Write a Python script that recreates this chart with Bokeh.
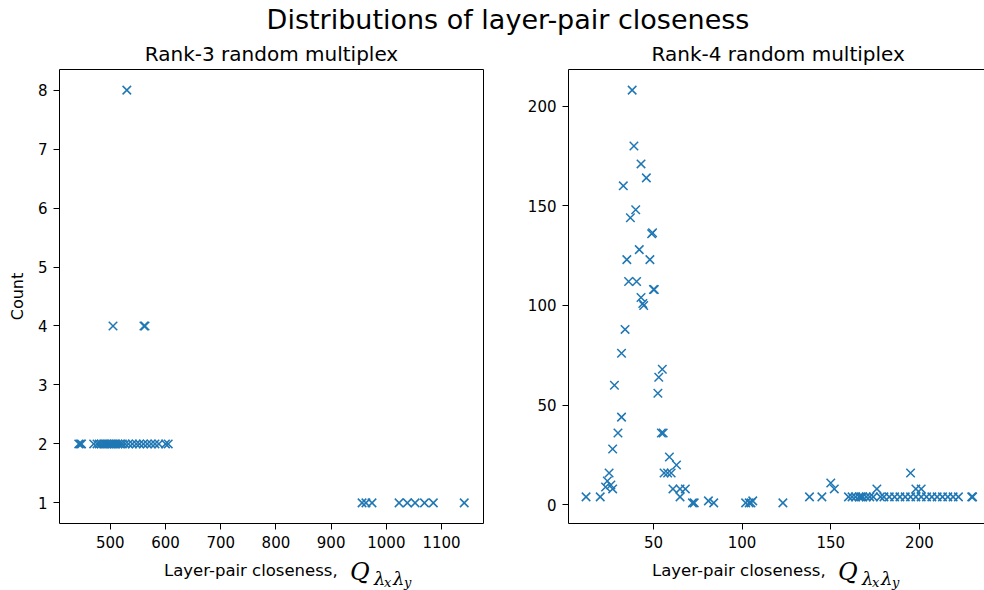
from bokeh.plotting import figure
from bokeh.layouts import column, row
from bokeh.models import Range1d, FixedTicker, LinearAxis, Div
from bokeh.embed import file_html
from bokeh.resources import INLINE

# ---------------- texts ----------------
TITLE = "Distributions of layer-pair closeness"
TITLE3 = "Rank-3 random multiplex"
TITLE4 = "Rank-4 random multiplex"
XLABEL = "Layer-pair closeness,"
XSYMBOL = "Q"
XSUB = ["\u03bb", "x", "\u03bb", "y"]
YLABEL = "Count"

# ---------------- data: rank-3 ----------------
rank3_q = [530,
           505, 561, 563,
           443, 446, 448, 470, 476, 480, 484, 488, 491, 494, 497, 500, 503, 507,
           510, 514, 518, 522, 527, 533, 540, 547, 553, 560, 567, 574, 581, 588,
           600, 605,
           956, 963, 974, 1023, 1038, 1052, 1069, 1085, 1141]
rank3_count = [8,
               4, 4, 4,
               2, 2, 2, 2, 2, 2, 2, 2, 2, 2, 2, 2, 2, 2,
               2, 2, 2, 2, 2, 2, 2, 2, 2, 2, 2, 2, 2, 2,
               2, 2,
               1, 1, 1, 1, 1, 1, 1, 1, 1]

# ---------------- data: rank-4 ----------------
rank4_q = [38, 39, 43, 46, 33, 40, 37, 49, 49.5, 42, 35, 48, 36, 40.5, 50, 50.5,
           43, 44, 44.5, 34, 32, 28, 55, 53, 52.5, 32, 30, 54.5, 55.5, 27, 59, 63,
           56, 58, 60, 25, 24, 26, 23, 27, 12, 20, 61, 65, 68, 65, 72, 73, 81, 84,
           102, 104, 106, 105, 123, 138, 145, 150, 152, 176, 195, 198, 201,
           229.5, 230,
           160, 162, 164, 166, 167, 168, 170, 172, 174, 178, 180, 183, 186, 189,
           192, 195, 198, 201, 204, 207, 210, 213, 216, 219, 222]
rank4_count = [208, 180, 171, 164, 160, 148, 144, 136, 136.5, 128, 123, 123, 112, 112, 108, 108,
               104, 101, 100, 88, 76, 60, 68, 64, 56, 44, 36, 36, 36, 28, 24, 20,
               16, 16, 16, 16, 12, 10, 9, 8, 4, 4, 8, 8, 8, 4, 1, 1, 2, 1,
               1, 1, 2, 1, 1, 4, 4, 11, 8, 8, 16, 8, 8,
               4, 4,
               4, 4, 4, 4, 4, 4, 4, 4, 4, 4, 4, 4, 4, 4,
               4, 4, 4, 4, 4, 4, 4, 4, 4, 4, 4]

x3_ticks = [500, 600, 700, 800, 900, 1000, 1100]
y3_ticks = [1, 2, 3, 4, 5, 6, 7, 8]
x4_ticks = [50, 100, 150, 200]
y4_ticks = [0, 50, 100, 150, 200]
x4_view = (2.1, 236.7)   # visible part of the rank-4 x axis (cropped on the right)

BLUE = "#1f77b4"
FONT = "DejaVu Sans"
SERIF = "DejaVu Serif"

# ---------------- layout constants ----------------
PAGE_W = 984
TITLE_H = 36
FRAME_TOP, FRAME_H, FRAME_BOTTOM = 33, 454, 32
LABEL_H = 35
L_BORDER_L, L_FRAME_W, L_BORDER_R = 59, 424, 10
R_BORDER_L = 75
R_FRAME_W = PAGE_W - (L_BORDER_L + L_FRAME_W + L_BORDER_R) - R_BORDER_L


def padded(vals, frac=0.05):
    lo, hi = min(vals), max(vals)
    pad = (hi - lo) * frac
    return lo - pad, hi + pad


def style(p, xt, yt):
    for ax in (p.xaxis[0], p.yaxis[0]):
        ax.major_label_text_font = FONT
        ax.major_label_text_font_size = "15px"
        ax.major_label_text_color = "black"
        ax.major_tick_in = 0
        ax.major_tick_out = 6
        ax.major_tick_line_color = "black"
        ax.major_tick_line_width = 1
        ax.minor_tick_line_color = None
        ax.major_label_standoff = 6
        ax.axis_line_color = "black"
        ax.axis_line_width = 1
    p.xaxis[0].ticker = FixedTicker(ticks=xt)
    p.yaxis[0].ticker = FixedTicker(ticks=yt)
    p.grid.visible = False
    p.outline_line_color = None
    p.background_fill_color = "white"
    p.border_fill_color = "white"


def border_axis():
    return LinearAxis(ticker=FixedTicker(ticks=[]), major_tick_out=0, major_tick_in=0,
                      minor_tick_out=0, minor_tick_in=0, major_label_standoff=0,
                      major_label_text_font_size="0px", axis_line_color="black",
                      axis_line_width=1)


def sub_title(p, text, align, offset=0):
    p.title.text = text
    p.title.text_font = FONT
    p.title.text_font_size = "20px"
    p.title.text_font_style = "normal"
    p.title.text_color = "black"
    p.title.align = align
    p.title.offset = offset
    p.title.standoff = 7


def span(text, left, baseline, size, family=FONT, italic=False):
    # absolutely positioned text whose baseline sits at `baseline` px from the box top
    top = baseline - 0.846 * size
    st = ("position:absolute; left:%.1fpx; top:%.1fpx; font-size:%.1fpx; line-height:1; "
          "font-family:'%s'; color:black; white-space:nowrap;%s"
          % (left, top, size, family, " font-style:italic;" if italic else ""))
    return '<span style="%s">%s</span>' % (st, text)


def xlabel_div(width, left):
    parts = [
        span(XLABEL, left, 22, 16.5),
        span(XSYMBOL, left + 186, 25, 24, SERIF, True),
        span(XSUB[0], left + 210, 30, 18, SERIF, True),
        span(XSUB[1], left + 220, 32, 13, SERIF, True),
        span(XSUB[2], left + 229, 30, 18, SERIF, True),
        span(XSUB[3], left + 240, 32, 13, SERIF, True),
    ]
    html = ('<div style="position:relative; width:%dpx; height:%dpx; overflow:hidden;">%s</div>'
            % (width, LABEL_H, "".join(parts)))
    return Div(text=html, width=width, height=LABEL_H, margin=0, styles={"overflow": "hidden"})


# ---------------- main title ----------------
title_html = ('<div style="position:relative; width:%dpx; height:%dpx; overflow:hidden;">'
              '<div style="position:absolute; left:33px; width:950px; top:%.1fpx; text-align:center; '
              'font-size:27px; line-height:1; font-family:\'%s\'; color:black; white-space:nowrap;">%s</div></div>'
              % (PAGE_W, TITLE_H, 29 - 0.846 * 27, FONT, TITLE))
title_div = Div(text=title_html, width=PAGE_W, height=TITLE_H, margin=0, styles={"overflow": "hidden"})

# ---------------- left panel ----------------
xr3 = padded(rank3_q)
yr3 = padded(rank3_count)
p1 = figure(frame_width=L_FRAME_W, frame_height=FRAME_H,
            min_border_left=L_BORDER_L, min_border_right=L_BORDER_R,
            min_border_top=FRAME_TOP, min_border_bottom=FRAME_BOTTOM,
            x_range=Range1d(*xr3), y_range=Range1d(*yr3),
            toolbar_location=None, output_backend="svg")
style(p1, x3_ticks, y3_ticks)
p1.add_layout(border_axis(), "above")
p1.add_layout(border_axis(), "right")
sub_title(p1, TITLE3, "center")
p1.yaxis[0].axis_label = YLABEL
p1.yaxis[0].axis_label_text_font = FONT
p1.yaxis[0].axis_label_text_font_size = "16px"
p1.yaxis[0].axis_label_text_font_style = "normal"
p1.yaxis[0].axis_label_text_color = "black"
p1.yaxis[0].axis_label_standoff = 8
p1.scatter(rank3_q, rank3_count, marker="x", size=12, line_color=BLUE, line_width=1.5)

# ---------------- right panel ----------------
yr4 = padded(rank4_count)
p2 = figure(frame_width=R_FRAME_W, frame_height=FRAME_H,
            min_border_left=R_BORDER_L, min_border_right=0,
            min_border_top=FRAME_TOP, min_border_bottom=FRAME_BOTTOM,
            x_range=Range1d(*x4_view), y_range=Range1d(*yr4),
            toolbar_location=None, output_backend="svg")
style(p2, x4_ticks, y4_ticks)
p2.add_layout(border_axis(), "above")
sub_title(p2, TITLE4, "left", 83)
p2.scatter(rank4_q, rank4_count, marker="x", size=12, line_color=BLUE, line_width=1.5)

left_w = L_BORDER_L + L_FRAME_W + L_BORDER_R
right_w = R_BORDER_L + R_FRAME_W
labels = row(xlabel_div(left_w, 164), xlabel_div(right_w, 652 - left_w), spacing=0)

layout = column(title_div, row(p1, p2, spacing=0), labels, spacing=0)
open("out.html", "w").write(file_html(layout, INLINE))
